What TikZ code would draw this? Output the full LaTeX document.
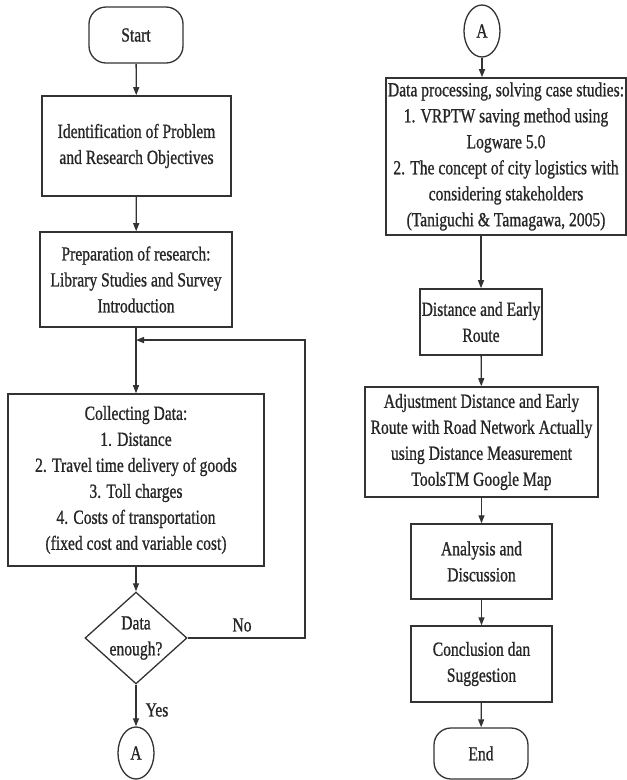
\documentclass[tikz,border=0pt]{standalone}
\usepackage{fontspec}
\setmainfont{Liberation Serif}[FakeBold=1]
\usetikzlibrary{arrows.meta,shapes.geometric}
\definecolor{ln}{gray}{0.2}
\begin{document}
\begin{tikzpicture}[x=1pt,y=-1pt]
\fill[white] (0,0) rectangle (627,780);
\useasboundingbox (0,0) rectangle (627,780);
\begin{scope}[yscale=1.28, y=-0.78125pt, transform shape,
  every node/.style={font=\fontsize{15.6}{20.3}\selectfont, text=black!85},
  ht/.style={minimum height=#1pt/1.28},
  box/.style={draw=ln, line width=1.3pt, fill=white, align=center, inner sep=0pt},
  term/.style={box, rounded corners=17pt},
  conn/.style={draw=ln, line width=1.3pt, ellipse, inner sep=0pt, minimum width=36pt, ht=52},
  decis/.style={draw=ln, line width=1.3pt, diamond, inner sep=0pt, minimum width=102pt, ht=92},
  arr/.style={draw=ln, line width=1.3pt, -{Triangle[length=8pt,width=6pt]}},
  lbl/.style={inner sep=0pt}
]
% left column
\node[term, minimum width=94pt, ht=56] (start) at (136,35) {Start};
\node[box, minimum width=189pt, ht=100] (b1) at (136.5,146) {Identification of Problem\\and Research Objectives};
\node[box, minimum width=192pt, ht=95] (b2) at (136,279.5) {Preparation of research:\\Library Studies and Survey\\Introduction};
\node[box, minimum width=256pt, ht=172] (b3) at (136,480) {Collecting Data:\\1. Distance\\2. Travel time delivery of goods\\3. Toll charges\\4. Costs of transportation\\(fixed cost and variable cost)};
\node[decis] (dia) at (136,638) {};
\node[lbl, align=center] (diat) at (136,638) {Data\\enough?};
\node[conn] (A1) at (136,753) {A};
\node[lbl] (no) at (242,625) {No};
\node[lbl] (yes) at (157,710) {Yes};
\coordinate (join) at (136,340);
\coordinate (fbc) at (305,638);

\draw[arr] (start) -- (b1);
\draw[arr] (b1) -- (b2);
\draw[arr] (b2) -- (b3);
\draw[arr] (b3) -- (dia);
\draw[arr] (dia) -- (A1);
\draw[arr] (dia.east) -- (fbc) |- (join);

% right column
\node[conn] (A2) at (482,31) {A};
\node[box, minimum width=240pt, ht=157] (r1) at (506,156.5) {Data processing, solving case studies:\\1. VRPTW saving method using\\Logware 5.0\\2. The concept of city logistics with\\considering stakeholders\\(Taniguchi \& Tamagawa, 2005)};
\node[box, minimum width=122pt, ht=66] (r2) at (481,322) {Distance and Early\\Route};
\node[box, minimum width=233pt, ht=110] (r3) at (481.5,442) {Adjustment Distance and Early\\Route with Road Network Actually\\using Distance Measurement\\ToolsTM Google Map};
\node[box, minimum width=141pt, ht=75] (r4) at (481.5,561.5) {Analysis and\\Discussion};
\node[box, minimum width=141pt, ht=76] (r5) at (481.5,664) {Conclusion dan\\Suggestion};
\node[term, minimum width=94pt, ht=51] (endn) at (481,753.5) {End};

\draw[arr] (A2) -- (A2 |- r1.north);
\draw[arr] (r1.south -| r2.north) -- (r2);
\draw[arr] (r2) -- (r3);
\draw[arr] (r3) -- (r4);
\draw[arr] (r4) -- (r5);
\draw[arr] (r5) -- (endn);
\end{scope}
\end{tikzpicture}
\end{document}
